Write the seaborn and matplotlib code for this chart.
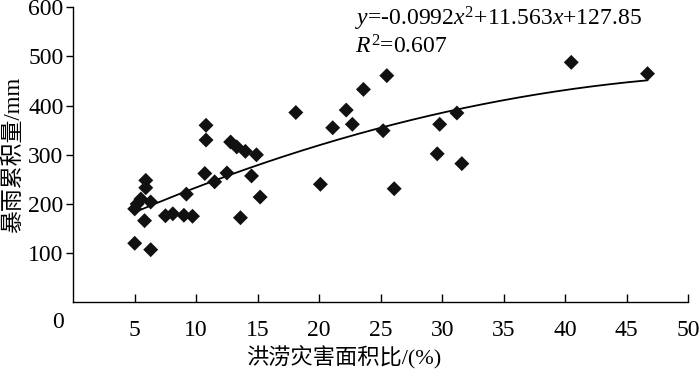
import numpy as np
import pandas as pd
import matplotlib
matplotlib.use("Agg")
import matplotlib.pyplot as plt
import seaborn as sns

# ---- data ----
area_ratio = [5.0, 6.3, 5.0, 5.2, 5.5, 6.3, 5.8, 5.9, 5.9,
              7.5, 8.1, 9.0, 9.7, 9.2, 10.8, 10.8, 10.7, 11.5,
              12.5, 12.8, 13.3, 14.0, 14.9, 14.5, 13.6, 15.2,
              18.1, 20.1, 21.1, 22.2, 22.7, 23.6, 25.2, 25.5, 26.1,
              29.6, 29.8, 31.2, 31.6, 40.5, 46.7]
rainfall = [120, 107, 190, 200, 210, 204, 166, 248, 233,
            176, 180, 177, 175, 220, 360, 330, 262, 245,
            263, 326, 316, 307, 300, 257, 172, 214,
            386, 240, 355, 391, 362, 433, 349, 461, 231,
            302, 362, 385, 282, 488, 465]
fit_coef = [-0.0992, 11.563, 127.85]   # y = a x^2 + b x + c
r_squared = 0.607
x_ticks = [5, 10, 15, 20, 25, 30, 35, 40, 45, 50]
y_ticks = [100, 200, 300, 400, 500, 600]
x_label = "洪涝灾害面积比/(%)"
y_label = "暴雨累积量/mm"

sns.set_theme(style="white")
fam = ["Liberation Serif", "Noto Sans CJK SC", "DejaVu Sans"]
plt.rcParams["font.family"] = fam
plt.rcParams["mathtext.fontset"] = "custom"
plt.rcParams["mathtext.rm"] = "Liberation Serif"
plt.rcParams["mathtext.it"] = "Liberation Serif:italic"

df = pd.DataFrame({"x": area_ratio, "y": rainfall})

fig = plt.figure(figsize=(7.0, 3.72), dpi=100)
ax = fig.add_axes([0.1046, 0.1874, 0.8784, 0.793])

sns.scatterplot(data=df, x="x", y="y", marker="D", s=58, color="#111111",
                edgecolor="none", linewidth=0, ax=ax, zorder=3)

xf = np.linspace(min(area_ratio), max(area_ratio), 200)
yf = np.polyval(fit_coef, xf)
sns.lineplot(x=xf, y=yf, color="black", linewidth=1.3, ax=ax, zorder=2)

ax.set_xlim(0, 50)
ax.set_ylim(0, 600)
ax.set_xticks(x_ticks)
ax.set_yticks(y_ticks)
ax.set_xticklabels([str(v) for v in x_ticks])
ax.set_yticklabels([str(v) for v in y_ticks])

for s in ["top", "right"]:
    ax.spines[s].set_visible(False)
for s in ["left", "bottom"]:
    ax.spines[s].set_color("black")
    ax.spines[s].set_linewidth(1.0)

ax.tick_params(axis="x", direction="in", length=6, width=1, color="black",
               pad=13, labelsize=17, labelcolor="black")
ax.tick_params(axis="y", direction="out", length=5, width=1, color="black",
               pad=2, labelsize=17, labelcolor="black")
ax.tick_params(left=True, bottom=True)

ax.text(-1.25, -42, "0", fontsize=17, ha="center", va="center", clip_on=False,
        color="black")

ax.set_xlabel(x_label, fontsize=16, color="black")
ax.set_ylabel(y_label, fontsize=16.5, color="black")
ax.xaxis.set_label_coords(0.44, -0.185)
ax.yaxis.set_label_coords(-0.097, 0.5)
ax.xaxis.label.set_va("center")
ax.yaxis.label.set_va("center")

eq = (r"$y$=-%.4f$x^2$+%.3f$x$+%.2f" % (-fit_coef[0], fit_coef[1], fit_coef[2]))
ax.text(22.9, 563, eq, fontsize=17, ha="left", va="baseline", color="black")
ax.text(22.9, 506, r"$R^2$=%.3f" % r_squared, fontsize=17, ha="left",
        va="baseline", color="black")

fig.savefig("out.png", dpi=100)
